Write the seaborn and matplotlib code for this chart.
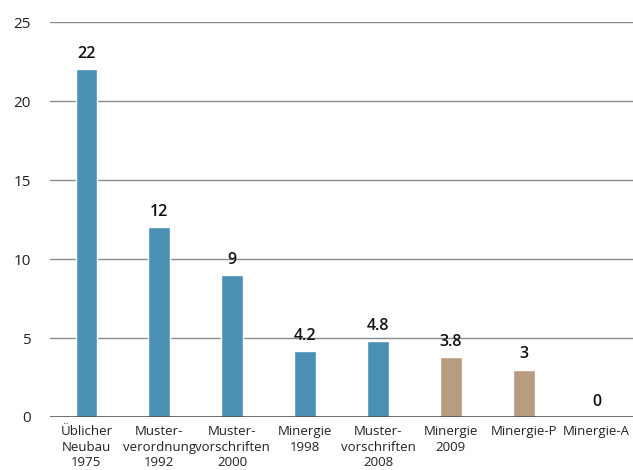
import matplotlib
matplotlib.use("Agg")
import matplotlib.pyplot as plt
import seaborn as sns
import pandas as pd

categories = ["Üblicher\nNeubau\n1975", "Muster-\nverordnung\n1992", "Muster-\nvorschriften\n2000",
              "Minergie\n1998", "Muster-\nvorschriften\n2008", "Minergie\n2009", "Minergie-P", "Minergie-A"]
values = [22, 12, 9, 4.2, 4.8, 3.8, 3, 0]
value_labels = ["22", "12", "9", "4.2", "4.8", "3.8", "3", "0"]
groups = ["Vorschrift", "Vorschrift", "Vorschrift", "Vorschrift", "Vorschrift", "Minergie", "Minergie", "Minergie"]
yticks = [0, 5, 10, 15, 20, 25]

sns.set_theme(style="white")
plt.rcParams['font.family'] = ['Open Sans', 'DejaVu Sans']

df = pd.DataFrame({"cat": categories, "val": values, "grp": groups})

fig = plt.figure(figsize=(6.33, 4.70), dpi=100)
ax = fig.add_axes([0.079, 0.1128, 0.921, 0.8402])
sns.barplot(data=df, x="cat", y="val", hue="grp",
            palette={"Vorschrift": "#4a90b4", "Minergie": "#b89c80"},
            width=0.3, dodge=False, legend=False, ax=ax, saturation=1)

ax.set_ylim(0, 25)
ax.set_xlim(-0.5, len(categories) - 0.5)
ax.set_yticks(yticks)
ax.set_yticklabels([str(t) for t in yticks], fontsize=11, color="#222222")
ax.tick_params(axis="y", length=0, pad=14)
ax.tick_params(axis="x", length=0, pad=6, labelsize=9.5, colors="#222222")
for lab in ax.get_xticklabels():
    lab.set_linespacing(1.25)
ax.set_xlabel("")
ax.set_ylabel("")
for t in yticks[1:]:
    ax.axhline(t, color="#8a8a8a", lw=1.0, zorder=0)
ax.axhline(0, color="#444444", lw=1.8, zorder=3)
for s in ax.spines.values():
    s.set_visible(False)

for i, (v, lab) in enumerate(zip(values, value_labels)):
    ax.text(i, v + 0.45, lab, ha="center", va="bottom", fontsize=11.5,
            fontweight="semibold", color="#111111")

fig.savefig("out.png", dpi=100)
